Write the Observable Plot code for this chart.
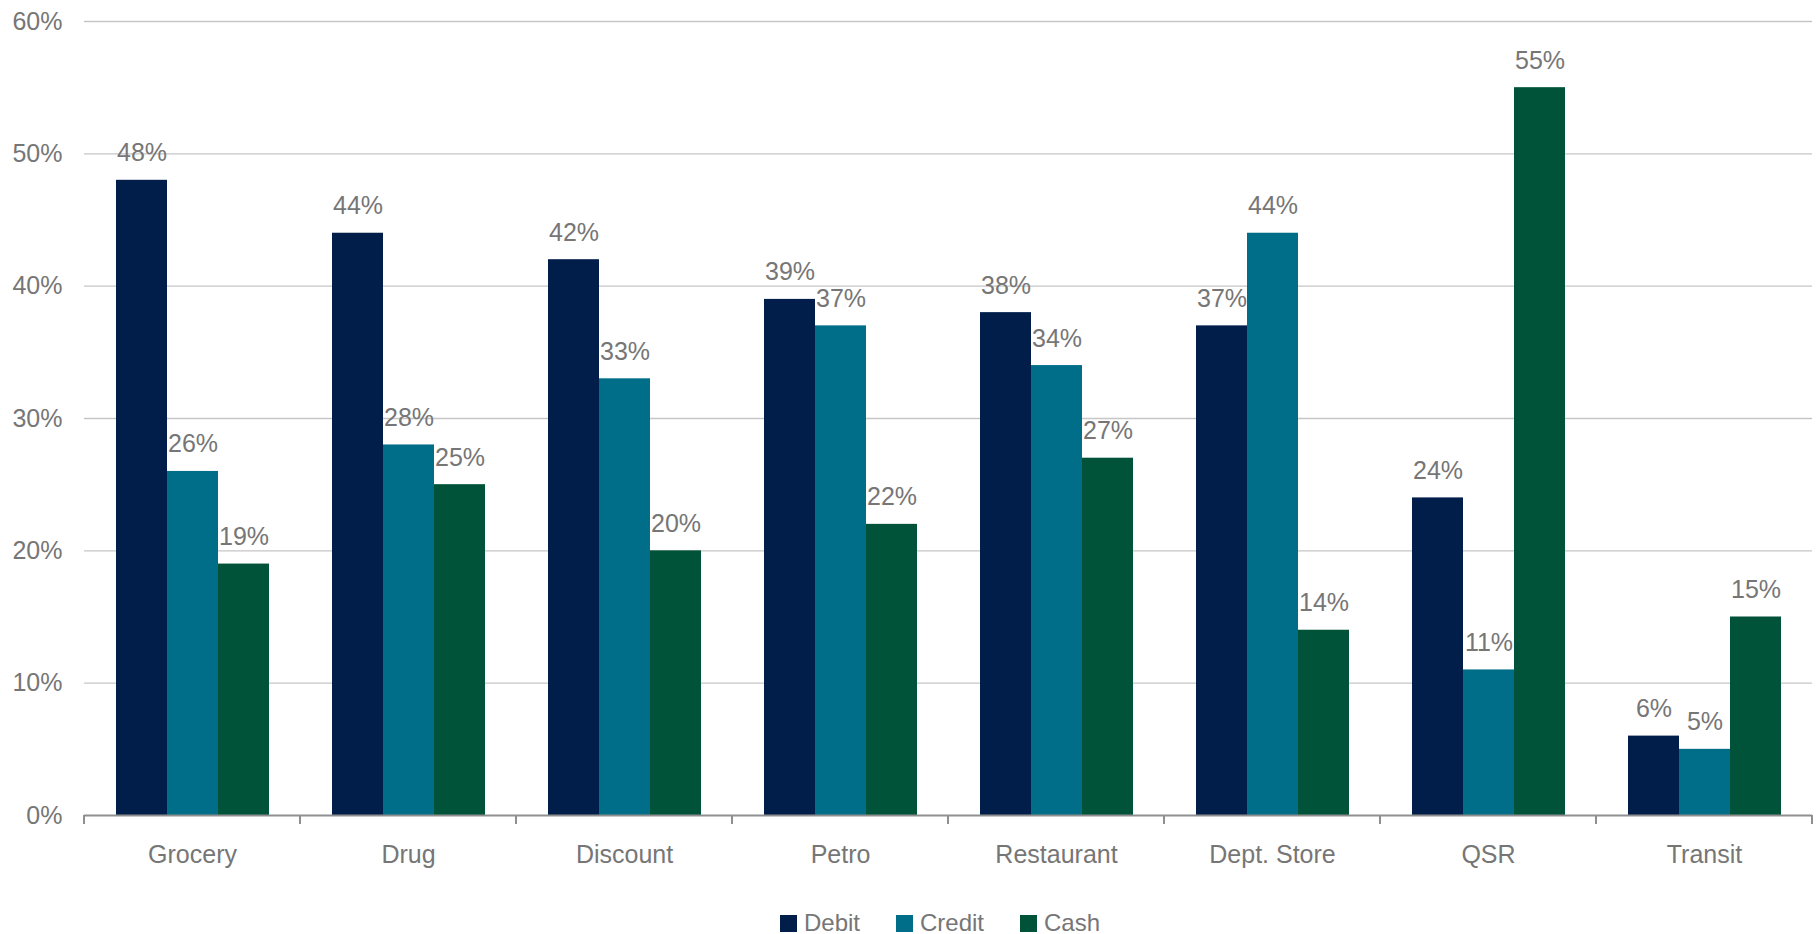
<!DOCTYPE html>
<html><head><meta charset="utf-8">
<script src="https://cdn.jsdelivr.net/npm/d3@7"></script>
<script src="https://cdn.jsdelivr.net/npm/@observablehq/plot@0.6"></script>
<style>
body{margin:0;background:#fff;overflow:hidden;font-family:"Liberation Sans",Arial,sans-serif;}
#legend{display:flex;justify-content:center;align-items:center;height:28px;margin-top:9px;padding-left:62px;font-size:24px;color:#767676;}
.item{display:flex;align-items:center;margin:0 18px;}
.sw{width:17px;height:17px;margin-right:7px;}
</style></head><body><div id="chart"></div><div id="legend"></div>
<script>
const categories = ["Grocery","Drug","Discount","Petro","Restaurant","Dept. Store","QSR","Transit"];
const series = ["Debit","Credit","Cash"];
const debit = [48,44,42,39,38,37,24,6];
const credit = [26,28,33,37,34,44,11,5];
const cash = [19,25,20,22,27,14,55,15];
const yTicks = [0,10,20,30,40,50,60];
const colors = ["#011d4a","#006e89","#005338"];
const textColor = "#767676";

const values = {Debit: debit, Credit: credit, Cash: cash};
const data = categories.flatMap((c, i) => series.map(s => ({category: c, series: s, value: values[s][i]})));

const plot = Plot.plot({
  width: 1818, height: 900,
  marginTop: 21, marginBottom: 85, marginLeft: 83, marginRight: 5,
  style: {fontFamily: '"Liberation Sans", Arial, sans-serif', fontSize: "25px", color: textColor, background: "#fff"},
  fx: {domain: categories, padding: 0, label: null},
  x: {domain: series, paddingInner: 0, paddingOuter: 0.59, axis: null},
  y: {domain: [0, 60], label: null, axis: null},
  color: {domain: series, range: colors},
  marks: [
    Plot.ruleY(yTicks.filter(d => d > 0), {stroke: "#c6c6c6", strokeWidth: 1.3}),
    Plot.barY(data, {fx: "category", x: "series", y: "value", fill: "series"}),
    Plot.text(data, {fx: "category", x: "series", y: "value", text: d => d.value + "%", dy: -27, fill: textColor, fontSize: 25}),
    Plot.ruleY([0], {stroke: "#8f8f8f", strokeWidth: 2}),
    Plot.axisY({ticks: yTicks, tickSize: 0, tickPadding: 22, tickFormat: d => d + "%", label: null, fontSize: 25}),
    Plot.axisFx({anchor: "bottom", tickSize: 0, tickPadding: 30, label: null, fontSize: 25})
  ]
});
document.getElementById("chart").appendChild(plot);

// boundary tick marks on the category axis, placed via the plot's own scales
const fx = plot.scale("fx");
const y = plot.scale("y");
const base = y.apply(0);
const bounds = categories.map(c => fx.apply(c)).concat([fx.apply(categories[categories.length - 1]) + fx.bandwidth]);
d3.select(plot).append("g")
  .attr("stroke", "#8f8f8f").attr("stroke-width", 2)
  .selectAll("line").data(bounds).join("line")
  .attr("x1", d => d).attr("x2", d => d)
  .attr("y1", base).attr("y2", base + 9);

const legend = d3.select("#legend");
series.forEach((s, i) => {
  const it = legend.append("div").attr("class", "item");
  it.append("div").attr("class", "sw").style("background", colors[i]);
  it.append("span").text(s);
});
</script></body></html>
